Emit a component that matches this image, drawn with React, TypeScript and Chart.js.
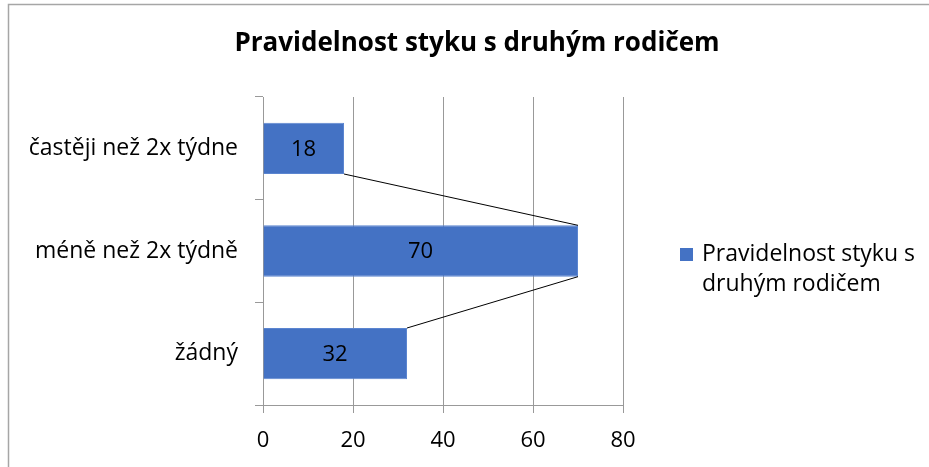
import React, { useEffect, useRef } from "react";
import { Chart, registerables } from "chart.js";

Chart.register(...registerables);

const TITLE = "Pravidelnost styku s druhým rodičem";
const CATEGORIES = ["častěji než 2x týdne", "méně než 2x týdně", "žádný"];
const VALUES = [18, 70, 32];
const SERIES_NAME = "Pravidelnost styku s druhým rodičem";
const LEGEND_LINES = ["Pravidelnost styku s", "druhým rodičem"];
const X_MIN = 0;
const X_MAX = 80;
const X_STEP = 20;

const FONT = "'Open Sans', sans-serif";
const BAR_COLOR = "#4472C4";
const GRID_COLOR = "#999999";

const decorPlugin = {
  id: "decor",
  beforeDraw(chart: any) {
    const ctx = chart.ctx;
    ctx.save();
    ctx.fillStyle = "#ffffff";
    ctx.fillRect(0, 0, chart.width, chart.height);
    // outer chart border (top and left visible)
    ctx.strokeStyle = "#a6a6a6";
    ctx.lineWidth = 1.5;
    ctx.beginPath();
    ctx.moveTo(8.5, chart.height);
    ctx.lineTo(8.5, 4.5);
    ctx.lineTo(chart.width, 4.5);
    ctx.stroke();
    ctx.restore();
  },
  afterDatasetsDraw(chart: any) {
    const ctx = chart.ctx;
    const meta = chart.getDatasetMeta(0);
    const els = meta.data;
    ctx.save();
    // series lines
    ctx.strokeStyle = "#000000";
    ctx.lineWidth = 1;
    ctx.beginPath();
    for (let i = 0; i < els.length - 1; i++) {
      const a = els[i];
      const b = els[i + 1];
      ctx.moveTo(a.x, a.y + a.height / 2);
      ctx.lineTo(b.x, b.y - b.height / 2);
    }
    ctx.stroke();
    // data labels
    ctx.fillStyle = "#000000";
    ctx.font = `22px ${FONT}`;
    ctx.textAlign = "center";
    ctx.textBaseline = "middle";
    els.forEach((el: any, i: number) => {
      const base = chart.scales.x.getPixelForValue(0);
      ctx.fillText(String(VALUES[i]), (base + el.x) / 2, el.y + 1);
    });
    // title
    ctx.font = `bold 26px ${FONT}`;
    ctx.fillText(TITLE, 477, 44);
    // legend
    ctx.fillStyle = BAR_COLOR;
    ctx.fillRect(680, 248, 13, 13);
    ctx.fillStyle = "#000000";
    ctx.textAlign = "left";
    ctx.font = `23px ${FONT}`;
    LEGEND_LINES.forEach((t, i) => ctx.fillText(t, 702, 254 + i * 30));
    ctx.restore();
  },
};

export default function App() {
  const ref = useRef<HTMLCanvasElement | null>(null);
  useEffect(() => {
    document.body.style.margin = "0";
    const chart = new Chart(ref.current as HTMLCanvasElement, {
      type: "bar",
      data: {
        labels: CATEGORIES,
        datasets: [
          {
            label: SERIES_NAME,
            data: VALUES,
            backgroundColor: BAR_COLOR,
            borderColor: "#5b85d0",
            borderWidth: 1,
            barPercentage: 0.5,
            categoryPercentage: 1,
          },
        ],
      },
      options: {
        indexAxis: "y",
        responsive: false,
        animation: false,
        layout: { padding: { top: 97, right: 306, left: 0, bottom: 0 } },
        plugins: {
          legend: { display: false },
          title: { display: false },
          tooltip: { enabled: false },
        },
        scales: {
          x: {
            min: X_MIN,
            max: X_MAX,
            ticks: {
              stepSize: X_STEP,
              color: "#000000",
              font: { family: FONT, size: 22 },
              padding: 15,
            },
            grid: { color: GRID_COLOR, tickLength: 8, drawTicks: true },
            border: { display: true, color: GRID_COLOR },
            afterFit: (s: any) => {
              s.height = 62;
            },
          },
          y: {
            ticks: {
              color: "#000000",
              font: { family: FONT, size: 23 },
              padding: 17,
            },
            grid: {
              drawOnChartArea: false,
              drawTicks: true,
              tickLength: 8,
              color: GRID_COLOR,
              offset: true,
            },
            border: { display: true, color: GRID_COLOR },
            afterFit: (s: any) => {
              s.width = 263;
            },
          },
        },
      },
      plugins: [decorPlugin],
    } as any);
    return () => chart.destroy();
  }, []);
  return (
    <div style={{ width: 929, height: 467 }}>
      <canvas ref={ref} width={929} height={467} style={{ display: "block" }} />
    </div>
  );
}
